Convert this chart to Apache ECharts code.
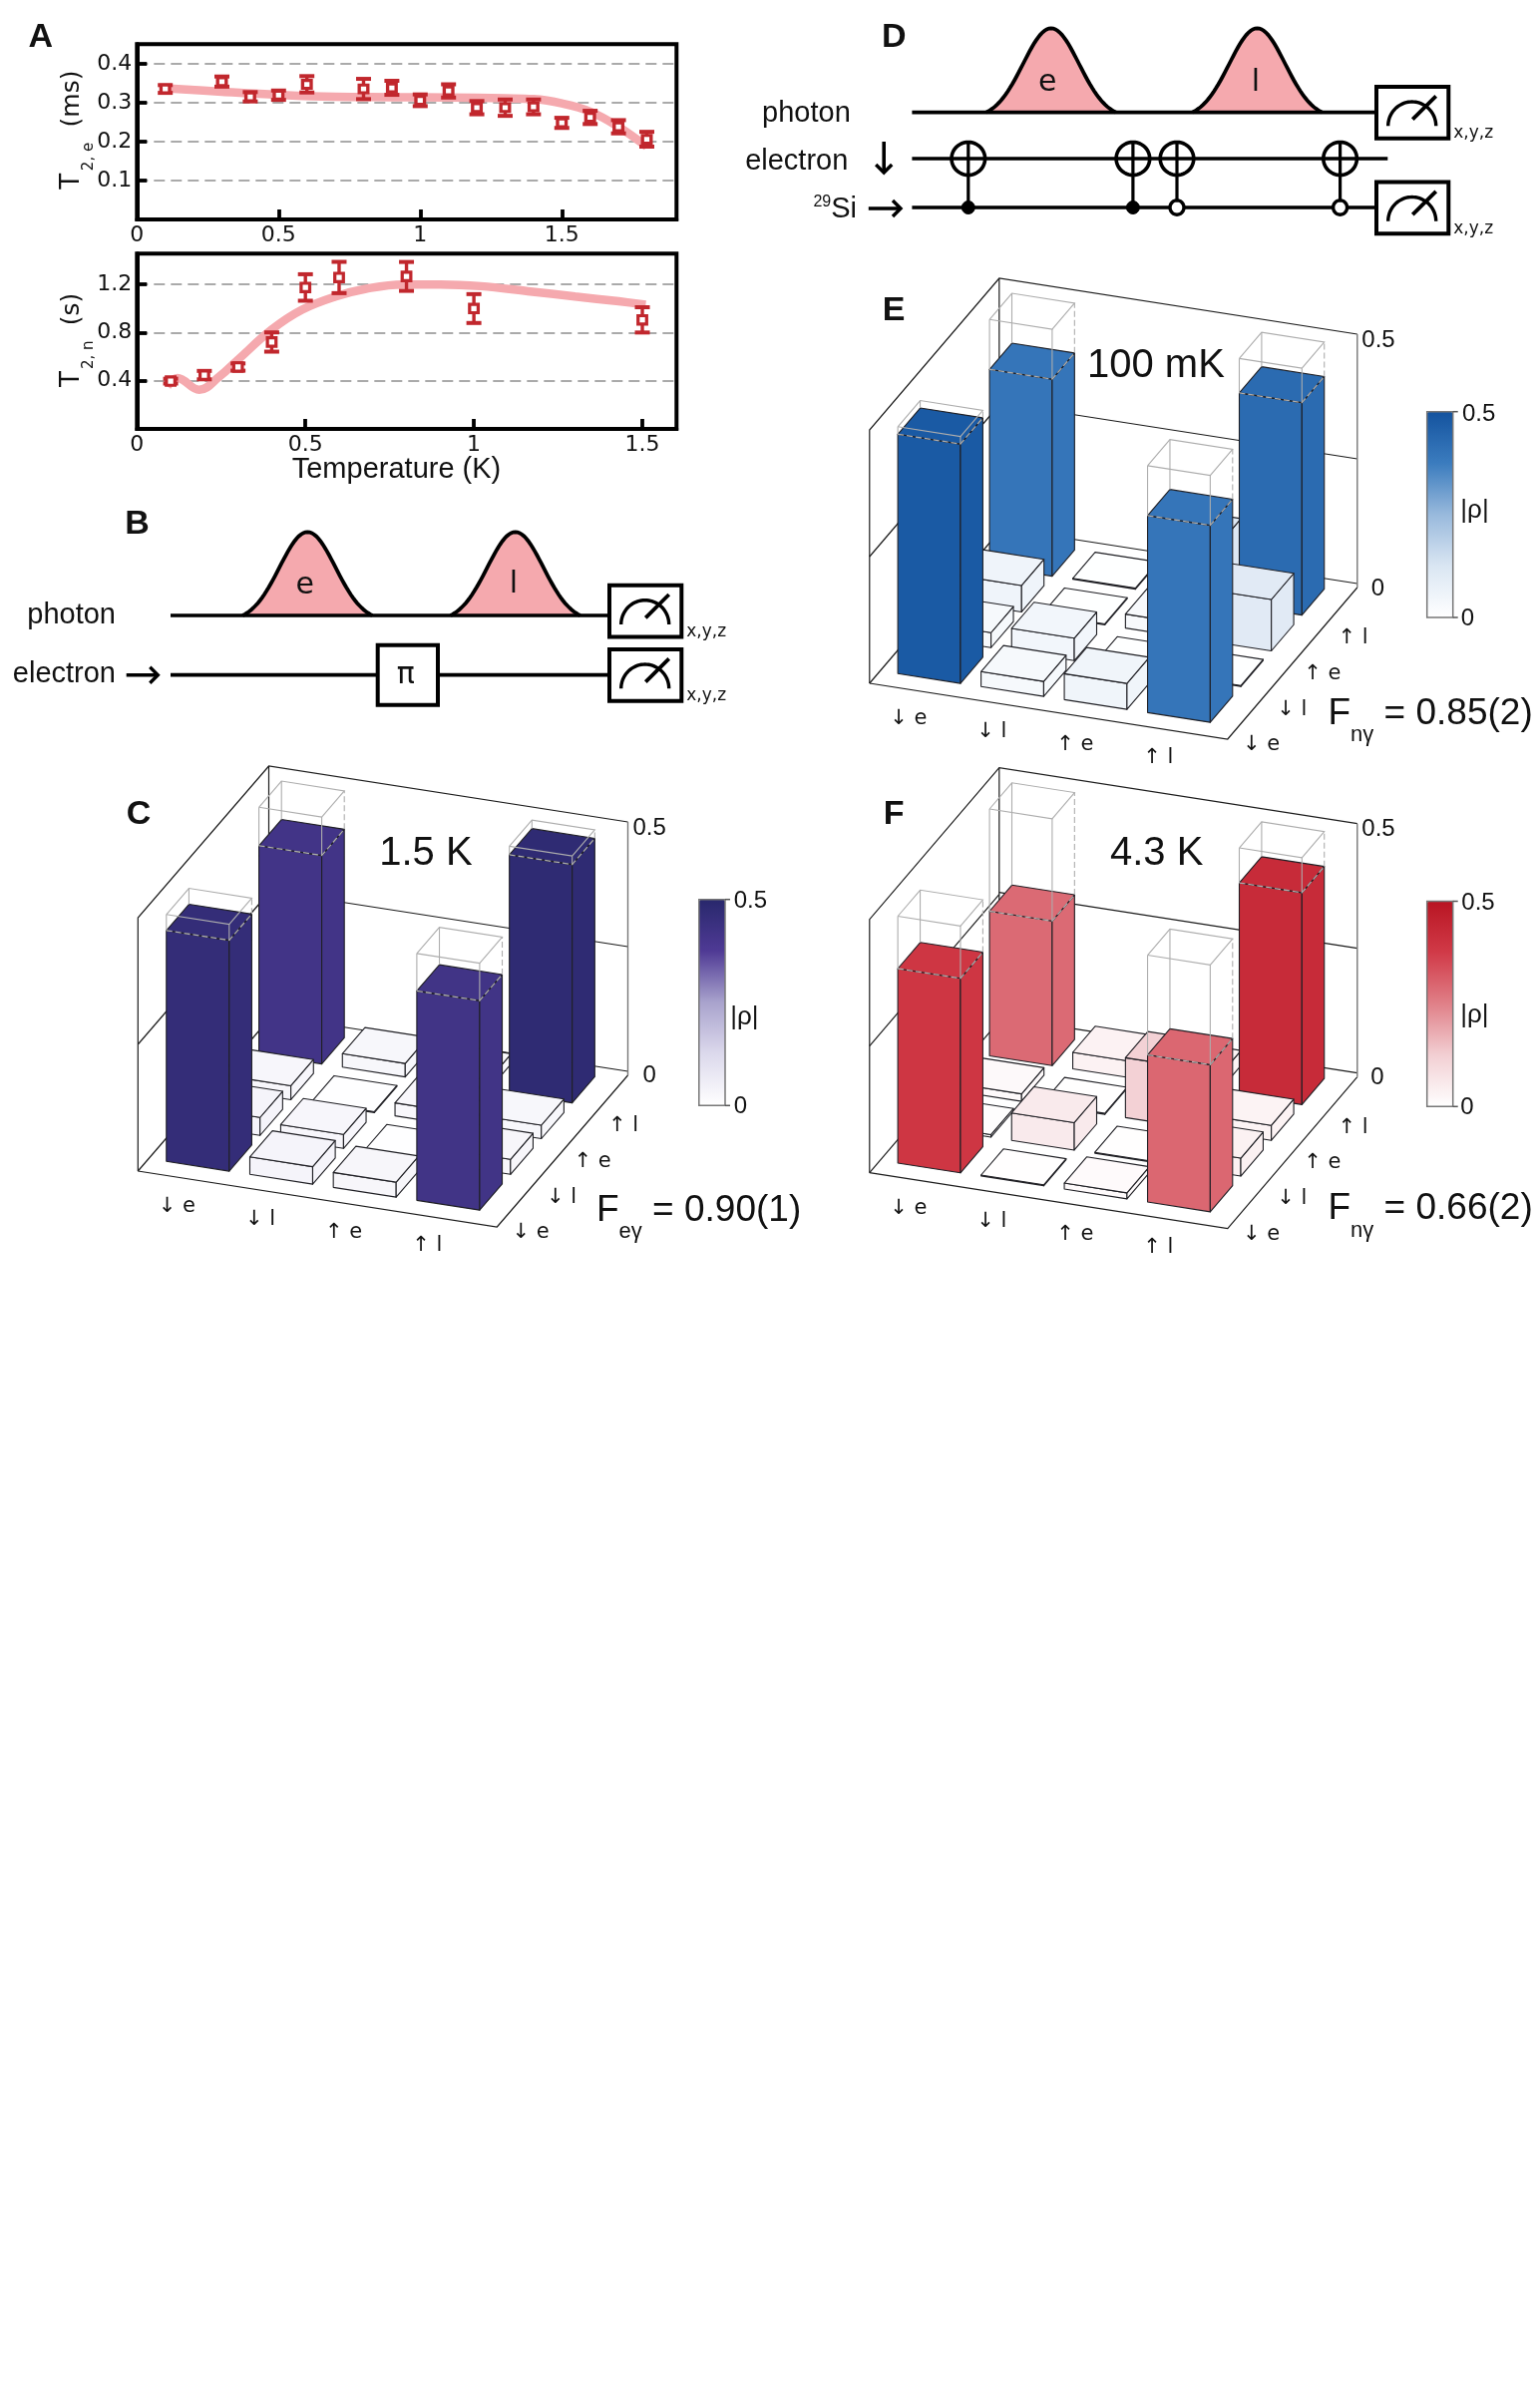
<!DOCTYPE html>
<html><head><meta charset="utf-8">
<style>html,body{margin:0;padding:0;background:#fff}#c{width:1544px;height:2401px}</style>
<script src="https://cdn.jsdelivr.net/npm/echarts@6/dist/echarts.min.js"></script>
</head><body><div id="c"></div>
<script>
// ---------- Panel A data ----------
const tempE   = [0.1,0.3,0.4,0.5,0.6,0.8,0.9,1.0,1.1,1.2,1.3,1.4,1.5,1.6,1.7,1.8];
const t2e     = [0.335,0.354,0.315,0.319,0.347,0.335,0.338,0.306,0.330,0.287,0.287,0.289,0.248,0.262,0.238,0.206];
const t2eErr  = [0.010,0.013,0.012,0.012,0.021,0.026,0.018,0.015,0.017,0.017,0.021,0.019,0.013,0.017,0.017,0.019];
const fitTe   = [0.1,0.3,0.5,0.7,0.9,1.1,1.3,1.4,1.5,1.6,1.7,1.8];
const fitT2e  = [0.337,0.328,0.320,0.315,0.314,0.313,0.311,0.309,0.298,0.277,0.238,0.187];
const tempN   = [0.1,0.2,0.3,0.4,0.5,0.6,0.8,1.0,1.5];
const t2n     = [0.397,0.447,0.514,0.722,1.175,1.258,1.267,1.0,0.906];
const t2nErr  = [0.02,0.035,0.03,0.08,0.11,0.13,0.12,0.12,0.105];
const fitTn   = [0.09,0.12,0.185,0.245,0.30,0.40,0.49,0.59,0.68,0.79,0.90,1.02,1.16,1.30,1.43,1.51];
const fitT2n  = [0.353,0.422,0.325,0.436,0.575,0.825,0.99,1.10,1.164,1.20,1.20,1.186,1.144,1.10,1.06,1.033];
// ---------- Density matrices (row = ket on depth axis, column = ket on width axis) ----------
const kets = ['↓ e','↓ l','↑ e','↑ l'];
const rho15K = [
  [0.463,0.035,0.030,0.420],
  [0.036,0.028,0.002,0.030],
  [0.028,0.002,0.026,0.027],
  [0.418,0.027,0.020,0.478]];
const rho100mK = [
  [0.480,0.030,0.052,0.395],
  [0.030,0.045,0.002,0.002],
  [0.053,0.002,0.028,0.103],
  [0.395,0.002,0.115,0.426]];
const rho43K = [
  [0.390,0.002,0.012,0.295],
  [0.005,0.055,0.002,0.036],
  [0.015,0.002,0.120,0.030],
  [0.290,0.033,0.030,0.425]];
const ideal = [
  [0.495,0,0,0.495],
  [0,0,0,0],
  [0,0,0,0],
  [0.495,0,0,0.495]];
const cmapC = ['#ffffff','#dcd9ec','#a9a3cd','#4f3a95','#28286c'];
const cmapE = ['#ffffff','#dae6f3','#98b9dc','#3b7cbe','#14539f'];
const cmapF = ['#ffffff','#f2cfd3','#e08088','#d13a48','#b81522'];

const REG = '"Liberation Sans",Arial,Helvetica,sans-serif';
const DJ = '"DejaVu Sans",Verdana,sans-serif';
const RED = '#c1272d', PINK = '#f5a9ae';

// ---------- Geometry of the oblique 3D view ----------
const panels = [
  {name:'C',rho:rho15K,cmap:cmapC,fl:[138.3,1174],X:[360,56],Y:[131.2,-152],bar:[700.8,901.7,26.2,206.6],temp:'1.5 K',tempAt:[426.9,856],fid:['e\u03B3','0.90(1)'],fidAt:[598,1220.5],z5:[651.1,830],z0:[651.1,1078],lab5:[752.4,903.3],lab0:[742.3,1109],labR:[746.4,1020],tag:[139,817]},
  {name:'E',rho:rho100mK,cmap:cmapE,fl:[871.8,685],X:[359,56],Y:[130,-152],bar:[1430.7,412.7,26,206.3],temp:'100 mK',tempAt:[1158.9,366.5],fid:['n\u03B3','0.85(2)'],fidAt:[1331.5,722.5],z5:[1382,341.7],z0:[1381.5,590],lab5:[1482.6,415],lab0:[1471.5,620],labR:[1478.5,512],tag:[896.2,311.5]},
  {name:'F',rho:rho43K,cmap:cmapF,fl:[871.8,1175.7],X:[359,56],Y:[130,-152],bar:[1430.7,903.5,26,205.8],temp:'4.3 K',tempAt:[1159.7,856],fid:['n\u03B3','0.66(2)'],fidAt:[1331.5,1219],z5:[1382,831.7],z0:[1381,1080],lab5:[1482,905.7],lab0:[1471,1110],labR:[1478.3,1018],tag:[896.2,817]}
];
const Z_UNIT = 500, TOP_Z = 0.508, ABOVE = 406;
function plane(p,a,b,z){
  return [a/4*p.X[0]+b/4*p.Y[0], -(a/4*p.X[1]+b/4*p.Y[1])+z*Z_UNIT];
}
const A0=0.197, AS=0.93, BW=0.70, B0=0.328, BS=0.943, BD=0.69;

function frameItem(p){
  return function(params,api){
    const P=(a,b,z)=>api.coord(plane(p,a,b,z));
    const L=(pts,col,w)=>({type:'polyline',silent:true,shape:{points:pts},style:{fill:null,stroke:col||'#1c1c1c',lineWidth:w||1.2}});
    const kids=[
      L([P(0,0,0),P(4,0,0),P(4,4,0)]),
      L([P(0,0,0),P(0,4,0)]),
      L([P(0,4,0.008),P(4,4,0.008)]),
      L([P(0,0,0),P(0,0,TOP_Z),P(0,4,TOP_Z),P(4,4,TOP_Z)]),
      L([P(0,4,0.008),P(0,4,TOP_Z)]),
      L([P(0,0,0.254),P(0,4,0.254)]),
      L([P(0,4,0.258),P(4,4,0.258)]),
      L([P(4,4,0),P(4,4,TOP_Z)],'#777',1.4)
    ];
    const txt=(xy,s,size)=>({type:'text',silent:true,x:xy[0],y:xy[1],style:{text:s,fontSize:size,fontFamily:DJ,fill:'#111',align:'center',verticalAlign:'middle'}});
    kets.forEach((k,i)=>{
      kids.push(txt(P(A0+AS*(i+0.526),B0+BS*(-1.084),0),k,21));
      kids.push(txt(P(A0+AS*4.5,B0+BS*(i-0.365),0),k,21));
    });
    return {type:'group',children:kids};
  };
}
function barItem(p){
  return function(params,api){
    const P=(a,b,z)=>api.coord(plane(p,a,b,z));
    const c=api.value(0), r=api.value(1), v=api.value(2), id=api.value(3);
    const a0=A0+AS*c,a1=a0+BW,b0=B0+BS*r,b1=b0+BD;
    const col=api.visual('color');
    const face=(pts)=>({type:'polygon',silent:true,shape:{points:pts},style:{fill:col,stroke:'#1f1f24',lineWidth:1.1,lineJoin:'round'}});
    const kids=[
      face([P(a0,b0,0),P(a1,b0,0),P(a1,b0,v),P(a0,b0,v)]),
      face([P(a1,b0,0),P(a1,b1,0),P(a1,b1,v),P(a1,b0,v)]),
      face([P(a0,b0,v),P(a1,b0,v),P(a1,b1,v),P(a0,b1,v)])
    ];
    if(id>0){
      const W=(pts,d,w)=>({type:'polyline',silent:true,shape:{points:pts},style:{fill:null,stroke:'#adadad',lineWidth:w||1.1,lineDash:d||null}});
      kids.push(W([P(a0,b0,id),P(a1,b0,id),P(a1,b1,id),P(a0,b1,id),P(a0,b0,id)]));
      kids.push(W([P(a0,b0,v),P(a0,b0,id)]));
      kids.push(W([P(a1,b0,v),P(a1,b0,id)]));
      kids.push(W([P(a1,b1,v),P(a1,b1,id)],[6,3]));
      kids.push(W([P(a0,b1,v),P(a0,b1,id)]));
      kids.push(W([P(a0,b0,v),P(a1,b0,v),P(a1,b1,v)],[6,3],1.3));
    }
    return {type:'group',children:kids};
  };
}
function errItem(params,api){
  const x=api.value(0),lo=api.value(1),hi=api.value(2);
  const a=api.coord([x,lo]),b=api.coord([x,hi]);
  return {type:'group',children:[
    {type:'line',silent:true,shape:{x1:a[0],y1:a[1],x2:b[0],y2:b[1]},style:{stroke:RED,lineWidth:3.4,fill:null}},
    {type:'line',silent:true,shape:{x1:a[0]-7.5,y1:a[1],x2:a[0]+7.5,y2:a[1]},style:{stroke:RED,lineWidth:4}},
    {type:'line',silent:true,shape:{x1:b[0]-7.5,y1:b[1],x2:b[0]+7.5,y2:b[1]},style:{stroke:RED,lineWidth:4}}
  ]};
}

// ---------- Graphic helpers for the circuit diagrams ----------
const g=[];
function T(x,y,s,size,o){o=o||{};g.push({type:'text',silent:true,z:50,x:x,y:y,rotation:o.rot||0,style:{text:s,fontSize:size,fontFamily:o.fam||REG,fontWeight:o.w||'normal',fill:o.col||'#111',align:o.al||'center',verticalAlign:'middle',rich:o.rich}});}
function Ln(x1,y1,x2,y2,w,col,z){g.push({type:'line',silent:true,z:z||30,shape:{x1,y1,x2,y2},style:{stroke:col||'#000',lineWidth:w||3.7}});}
function Pl(pts,w,col,fill,z){g.push({type:'polyline',silent:true,z:z||30,shape:{points:pts},style:{stroke:col||'#000',lineWidth:w||3,fill:fill||null}});}
function Pg(pts,w,stroke,fill,z){g.push({type:'polygon',silent:true,z:z||30,shape:{points:pts},style:{stroke:stroke,lineWidth:w,fill:fill}});}
function Box(x,y,w,h){g.push({type:'rect',silent:true,z:32,shape:{x,y,width:w,height:h},style:{fill:'#fff',stroke:'#000',lineWidth:4}});}
function ell(cx,cy,rx,ry,t0,t1,n){const a=[];for(let i=0;i<=n;i++){const t=t0+(t1-t0)*i/n;a.push([cx+rx*Math.cos(t),cy+ry*Math.sin(t)]);}return a;}
function Meter(x,y){
  Box(x,y,72.3,51.7);
  Pl(ell(x+35.7,y+39.3,24,24.3,Math.PI,2*Math.PI,40),3.4,'#000',null,33);
  Ln(x+36.3,y+32.6,x+59.7,y+9.3,3.8,'#000',33);
  T(x+77.3,y+46.6,'x,y,z',17,{al:'left',fam:DJ});
}
function Pulse(c,base,peak,half){
  const sig=28,g0=Math.exp(-half*half/(2*sig*sig)),pts=[];
  for(let i=0;i<=60;i++){const x=c-half+2*half*i/60;const gs=Math.exp(-(x-c)*(x-c)/(2*sig*sig));pts.push([x,base-(base-peak)*(gs-g0)/(1-g0)]);}
  g.push({type:'polyline',silent:true,z:28,shape:{points:pts},style:{stroke:'#000',lineWidth:3.8,fill:PINK}});
}
function Arrow(x1,y1,x2,y2,w){
  Ln(x1,y1,x2,y2,w||3.6);
  const d=Math.hypot(x2-x1,y2-y1),ux=(x2-x1)/d,uy=(y2-y1)/d,s=8;
  Pl([[x2-ux*s-uy*s,y2-uy*s+ux*s],[x2,y2],[x2-ux*s+uy*s,y2-uy*s-ux*s]],3.4);
}
// Panel tags
T(40.7,38,'A',34,{w:'bold'});T(137.5,526,'B',34,{w:'bold'});T(896.4,37.5,'D',34,{w:'bold'});
// Panel A axis captions
T(72.7,181.7,'T',26,{rot:Math.PI/2,fam:DJ});T(89,157,'2, e',15,{rot:Math.PI/2,fam:DJ});T(72.7,99,'(ms)',25,{rot:Math.PI/2,fam:DJ});
T(72.7,380,'T',26,{rot:Math.PI/2,fam:DJ});T(89,355.7,'2, n',15,{rot:Math.PI/2,fam:DJ});T(72.7,310,'(s)',25,{rot:Math.PI/2,fam:DJ});
T(397.5,471,'Temperature (K)',29);
// Panel B
Pulse(308.3,617,533.3,65);Pulse(516.7,617,533.3,65);
Ln(171,617,611,617);Ln(171,676.7,611,676.7);
Meter(611,586.7);Meter(611,651);
g.push({type:'rect',silent:true,z:32,shape:{x:378.7,y:646.7,width:60.3,height:60},style:{fill:'#fff',stroke:'#000',lineWidth:4}});
T(406.7,677.3,'\u03C0',30,{fam:DJ});T(305.7,587,'e',30,{fam:DJ});T(515,586,'l',30,{fam:DJ});
T(116,617,'photon',29,{al:'right'});T(116,675.5,'electron',29,{al:'right'});Arrow(126.7,676.7,158.3,676.7);
// Panel D
Pulse(1053.8,112.7,28.3,65);Pulse(1260.5,112.7,28.3,65);
Ln(914.4,112.7,1380,112.7);Ln(914.4,159,1391.3,159);Ln(914.4,208,1380,208);
Meter(1380,87);Meter(1380,182.5);
[970.8,1135.9,1180,1343.6].forEach((x,i)=>{
  Ln(x,142,x,208,3.2,'#000',34);
  Pl(ell(x,159,16.8,16.5,0,2*Math.PI,48),3.6,'#000',null,34);
  if(i<2){Pg(ell(x,208,6.5,6.5,0,2*Math.PI,24),1,'#000','#000',35);}
  else{Pg(ell(x,208,7,7.2,0,2*Math.PI,24),3.4,'#000','#fff',35);}
});
T(1050.3,83,'e',30,{fam:DJ});T(1259,83,'l',30,{fam:DJ});
T(852.8,114,'photon',29,{al:'right'});T(850.3,161.5,'electron',29,{al:'right'});
Arrow(886.2,142,886.2,173);
T(859,210,'{s|29}{f|Si}',29,{al:'right',rich:{s:{fontSize:16,fontFamily:REG,verticalAlign:'top',lineHeight:30,fill:'#111'},f:{fontSize:29,fontFamily:REG,lineHeight:30,fill:'#111'}}});
Arrow(870.8,209,903,209);
// Panels C/E/F annotations
panels.forEach(p=>{
  T(p.tag[0],p.tag[1],p.name,34,{w:'bold'});
  T(p.tempAt[0],p.tempAt[1],p.temp,40);
  T(p.fidAt[0],p.fidAt[1],'{f|F}{s|'+p.fid[0]+'}{f| = '+p.fid[1]+'}',37,{al:'left',rich:{
    f:{fontSize:37,fontFamily:REG,fill:'#111',verticalAlign:'top',lineHeight:41},
    s:{fontSize:22,fontFamily:REG,fill:'#111',verticalAlign:'bottom',lineHeight:51}}});
  T(p.z5[0],p.z5[1],'0.5',24);T(p.z0[0],p.z0[1],'0',24);
  T(p.lab5[0],p.lab5[1],'0.5',24);T(p.lab0[0],p.lab0[1],'0',24);T(p.labR[0],p.labR[1],'|\u03C1|',26);
  const b=p.bar;
  g.push({type:'rect',silent:true,z:40,shape:{x:b[0],y:b[1],width:b[2],height:b[3]},style:{fill:null,stroke:'#777',lineWidth:1.5}});
  Ln(b[0]+b[2],b[1],b[0]+b[2]+5,b[1],1.5,'#555',40);
  Ln(b[0]+b[2],b[1]+b[3],b[0]+b[2]+5,b[1]+b[3],1.5,'#555',40);
});

// ---------- Chart option ----------
const boxAxis={axisLine:{show:true,lineStyle:{color:'#000',width:4}},axisTick:{show:true,inside:true,length:10,lineStyle:{color:'#000',width:3.8}},axisLabel:{fontFamily:DJ,fontSize:22,color:'#111',margin:5}};
function fmt(v){return v===0?'':String(Math.round(v*10)/10);}
const grids=[
  {left:137.3,top:44.3,width:541,height:175.7,show:true,borderColor:'#000',borderWidth:4,backgroundColor:'#fff'},
  {left:137.3,top:254.3,width:541,height:175.7,show:true,borderColor:'#000',borderWidth:4,backgroundColor:'#fff'}
];
const xAxes=[
  Object.assign({type:'value',gridIndex:0,min:0,max:1.905,interval:0.5,splitLine:{show:false}},boxAxis,{axisLabel:Object.assign({},boxAxis.axisLabel,{showMaxLabel:false,formatter:v=>String(v)})}),
  Object.assign({type:'value',gridIndex:1,min:0,max:1.6015,interval:0.5,splitLine:{show:false}},boxAxis,{axisLabel:Object.assign({},boxAxis.axisLabel,{showMaxLabel:false,formatter:v=>String(v)})})
];
const dashSplit={show:true,showMinLine:false,showMaxLine:false,lineStyle:{color:'#aaa',width:2,type:[11,6]}};
const yAxes=[
  Object.assign({type:'value',gridIndex:0,min:0,max:0.45,interval:0.1,splitLine:dashSplit},boxAxis,{axisLabel:Object.assign({},boxAxis.axisLabel,{showMaxLabel:false,margin:5,formatter:fmt})}),
  Object.assign({type:'value',gridIndex:1,min:0,max:1.456,interval:0.4,splitLine:dashSplit},boxAxis,{axisLabel:Object.assign({},boxAxis.axisLabel,{showMaxLabel:false,margin:5,formatter:fmt})})
];
const zip=(a,b)=>a.map((v,i)=>[v,b[i]]);
const series=[
  {type:'line',xAxisIndex:0,yAxisIndex:0,z:3,smooth:0.4,showSymbol:false,silent:true,lineStyle:{color:PINK,width:8.5},data:zip(fitTe,fitT2e)},
  {type:'custom',xAxisIndex:0,yAxisIndex:0,z:4,renderItem:errItem,silent:true,data:tempE.map((t,i)=>[t,t2e[i]-t2eErr[i],t2e[i]+t2eErr[i]])},
  {type:'scatter',xAxisIndex:0,yAxisIndex:0,z:5,symbol:'rect',symbolSize:[8.6,7.8],silent:true,itemStyle:{color:'#fff',borderColor:RED,borderWidth:3.2,opacity:1},data:zip(tempE,t2e)},
  {type:'line',xAxisIndex:1,yAxisIndex:1,z:3,smooth:0.4,showSymbol:false,silent:true,lineStyle:{color:PINK,width:8.5},data:zip(fitTn,fitT2n)},
  {type:'custom',xAxisIndex:1,yAxisIndex:1,z:4,renderItem:errItem,silent:true,data:tempN.map((t,i)=>[t,t2n[i]-t2nErr[i],t2n[i]+t2nErr[i]])},
  {type:'scatter',xAxisIndex:1,yAxisIndex:1,z:5,symbol:'rect',symbolSize:[8.6,8.4],silent:true,itemStyle:{color:'#fff',borderColor:RED,borderWidth:3.2,opacity:1},data:zip(tempN,t2n)}
];
const visualMaps=[];
panels.forEach((p,k)=>{
  const gi=grids.length;
  grids.push({left:p.fl[0],top:p.fl[1]-ABOVE,width:p.X[0]+p.Y[0],height:ABOVE+p.X[1],show:false});
  xAxes.push({type:'value',gridIndex:gi,show:false,min:0,max:p.X[0]+p.Y[0],splitLine:{show:false}});
  yAxes.push({type:'value',gridIndex:gi,show:false,min:-p.X[1],max:ABOVE,splitLine:{show:false}});
  series.push({type:'custom',xAxisIndex:gi,yAxisIndex:gi,z:6,silent:true,renderItem:frameItem(p),data:[[0,0]]});
  const items=[];
  for(let r=3;r>=0;r--)for(let c=0;c<4;c++)items.push([c,r,p.rho[r][c],ideal[r][c]]);
  series.push({type:'custom',xAxisIndex:gi,yAxisIndex:gi,z:7,silent:true,renderItem:barItem(p),data:items});
  visualMaps.push({type:'continuous',seriesIndex:series.length-1,dimension:2,min:0,max:0.5,left:p.bar[0],top:p.bar[1],itemWidth:p.bar[2],itemHeight:p.bar[3],padding:0,calculable:false,hoverLink:false,text:['',''],textStyle:{fontSize:1,color:'#fff'},inRange:{color:p.cmap}});
});
const chart=echarts.init(document.getElementById('c'),null,{renderer:'canvas',width:1544,height:2401});
chart.setOption({animation:false,backgroundColor:'#fff',tooltip:{show:false},grid:grids,xAxis:xAxes,yAxis:yAxes,visualMap:visualMaps,series:series,graphic:{elements:g}});
</script></body></html>
